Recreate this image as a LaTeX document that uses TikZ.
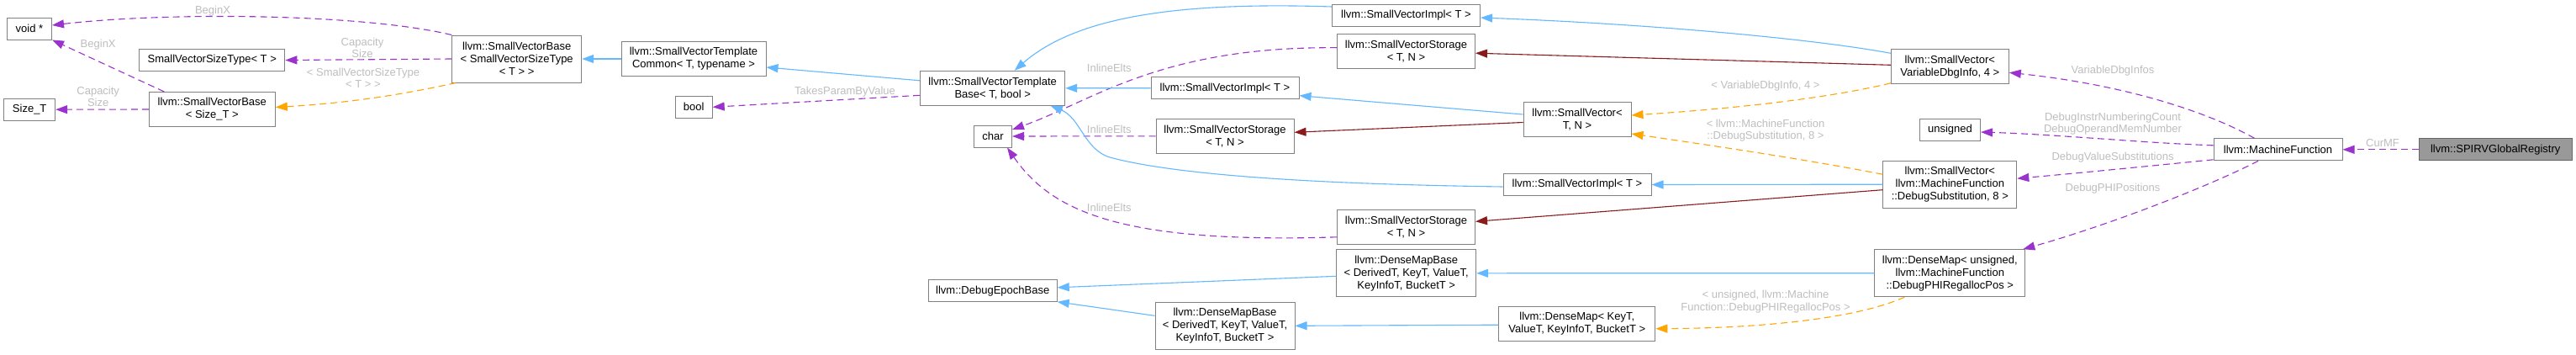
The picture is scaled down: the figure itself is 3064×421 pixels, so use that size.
\documentclass[tikz,border=0pt]{standalone}
\usepackage{fontspec}
\setmainfont{Liberation Sans}
\usetikzlibrary{arrows.meta}
\definecolor{usecol}{HTML}{9A32CD}
\definecolor{inhcol}{HTML}{63B8FF}
\definecolor{privcol}{HTML}{8B1A1A}
\definecolor{tmplcol}{HTML}{FFA500}
\definecolor{nodeborder}{HTML}{808080}
\definecolor{lblcol}{HTML}{BEBEBE}
\definecolor{spirvfill}{HTML}{999999}
\definecolor{spirvborder}{HTML}{666666}
\begin{document}
\begin{tikzpicture}[x=1pt,y=-1pt,
  cls/.style={draw=nodeborder, fill=white, line width=1pt, inner sep=0pt, align=center,
    font=\fontsize{13}{15}\selectfont},
  lbl/.style={text=lblcol, inner sep=0pt, align=center, font=\fontsize{13}{14.5}\selectfont},
  tip/.style={-{Triangle[length=14pt,width=10pt]}},
  usearr/.style={tip, draw=usecol, line width=1.1pt, dash pattern=on 8pt off 5pt},
  inharr/.style={tip, draw=inhcol, line width=1.1pt},
  privarr/.style={tip, draw=privcol, line width=1.1pt},
  tmplarr/.style={tip, draw=tmplcol, line width=1.1pt, dash pattern=on 8pt off 5pt}]
\useasboundingbox[fill=white] (0,0) rectangle (3064,421);

% nodes
\node[cls,minimum width=53pt,minimum height=26pt] (void) at (35,34) {void *};
\node[cls,minimum width=173pt,minimum height=26pt] (svst) at (252.3,71.5) {SmallVectorSizeType< T >};
\node[cls,minimum width=61pt,minimum height=26pt] (sizet) at (35.2,130.2) {Size\_T};
\node[cls,minimum width=150pt,minimum height=41pt] (svbsize) at (252.3,130) {llvm::SmallVectorBase\\< Size\_T >};
\node[cls,minimum width=154pt,minimum height=56pt] (svbsvst) at (614.7,70) {llvm::SmallVectorBase\\< SmallVectorSizeType\\< T > >};
\node[cls,minimum width=172pt,minimum height=41pt] (svtc) at (825,70) {llvm::SmallVectorTemplate\\Common< T, typename >};
\node[cls,minimum width=44pt,minimum height=26pt] (bool) at (825.2,127.3) {bool};
\node[cls,minimum width=172pt,minimum height=41pt] (svtb) at (1180.7,104.8) {llvm::SmallVectorTemplate\\Base< T, bool >};
\node[cls,minimum width=45pt,minimum height=26pt] (char) at (1181,162) {char};
\node[cls,minimum width=176pt,minimum height=26pt] (svimpl2) at (1457,104.7) {llvm::SmallVectorImpl< T >};
\node[cls,minimum width=164pt,minimum height=41pt] (svstor2) at (1457,161.8) {llvm::SmallVectorStorage\\< T, N >};
\node[cls,minimum width=153pt,minimum height=26pt] (epoch) at (1180.7,345.8) {llvm::DebugEpochBase};
\node[cls,minimum width=166pt,minimum height=56pt] (dmb2) at (1457,387.3) {llvm::DenseMapBase\\< DerivedT, KeyT, ValueT,\\KeyInfoT, BucketT >};
\node[cls,minimum width=176pt,minimum height=26pt] (svimpl1) at (1672.5,18) {llvm::SmallVectorImpl< T >};
\node[cls,minimum width=164pt,minimum height=41pt] (svstor1) at (1672.5,60.7) {llvm::SmallVectorStorage\\< T, N >};
\node[cls,minimum width=128pt,minimum height=41pt] (svtn) at (1876,142) {llvm::SmallVector<\\T, N >};
\node[cls,minimum width=176pt,minimum height=26pt] (svimpl3) at (1876,219.5) {llvm::SmallVectorImpl< T >};
\node[cls,minimum width=164pt,minimum height=41pt] (svstor3) at (1672.5,269.8) {llvm::SmallVectorStorage\\< T, N >};
\node[cls,minimum width=166pt,minimum height=56pt] (dmb1) at (1672.7,324.8) {llvm::DenseMapBase\\< DerivedT, KeyT, ValueT,\\KeyInfoT, BucketT >};
\node[cls,minimum width=186pt,minimum height=41pt] (dmkey) at (1875.8,384.7) {llvm::DenseMap< KeyT,\\ValueT, KeyInfoT, BucketT >};
\node[cls,minimum width=140pt,minimum height=41pt] (svvdi) at (2319.3,79.3) {llvm::SmallVector<\\VariableDbgInfo, 4 >};
\node[cls,minimum width=72pt,minimum height=26pt] (unsigned) at (2319.5,154) {unsigned};
\node[cls,minimum width=159pt,minimum height=56pt] (svds) at (2319.3,219.2) {llvm::SmallVector<\\llvm::MachineFunction\\::DebugSubstitution, 8 >};
\node[cls,minimum width=179pt,minimum height=56pt] (dmu) at (2319.3,324.7) {llvm::DenseMap< unsigned,\\llvm::MachineFunction\\::DebugPHIRegallocPos >};
\node[cls,minimum width=153pt,minimum height=26pt] (mf) at (2709.5,177.8) {llvm::MachineFunction};
\node[cls,fill=spirvfill,draw=spirvborder,minimum width=182pt,minimum height=26pt] (spirv) at (2968.2,177.8) {llvm::SPIRVGlobalRegistry};

% usage edges (purple dashed)
\draw[usearr] (svbsvst.north west) .. controls (430,16) and (200,14) .. ([yshift=4pt]void.east);
\draw[usearr] (svbsvst.west) -- (svst.east);
\draw[usearr] ([xshift=-57pt]svbsize.north) -- (void.south east);
\draw[usearr] (svbsize.west) -- (sizet.east);
\draw[usearr] ([yshift=-8.5pt]svtb.west) -- (bool.east);
\draw[usearr] ([yshift=4pt]svstor1.west) .. controls (1380,55) and (1300,120) .. ([yshift=8pt]char.east);
\draw[usearr] (svstor2.west) -- (char.east);
\draw[usearr] ([yshift=-12pt]svstor3.west) .. controls (1330,290) and (1250,250) .. ([xshift=17pt]char.south);
\draw[usearr] ([xshift=-28pt]mf.north) .. controls (2620,130) and (2520,100) .. ([yshift=-7pt]svvdi.east);
\draw[usearr] ([yshift=5pt]mf.west) .. controls (2550,170) and (2450,160) .. ([yshift=-3pt]unsigned.east);
\draw[usearr] ([yshift=-12pt]mf.west) .. controls (2550,198) and (2480,205) .. ([yshift=7pt]svds.east);
\draw[usearr] ([xshift=-23.5pt]mf.south) .. controls (2620,225) and (2500,270) .. ([xshift=-3pt]dmu.north east);
\draw[usearr] (spirv.west) -- (mf.east);

% inheritance edges (blue)
\draw[inharr] (svtc.west) -- (svbsvst.east);
\draw[inharr] ([yshift=9pt]svtb.west) -- ([yshift=-10pt]svtc.east);
\draw[inharr] ([yshift=10pt]svimpl1.west) .. controls (1400,2) and (1280,20) .. ([xshift=26pt]svtb.north);
\draw[inharr] (svimpl2.west) -- (svtb.east);
\draw[inharr] ([yshift=-2.5pt]svimpl3.west) .. controls (1650,220) and (1420,214) .. (1320,187) .. controls (1290,178) and (1285,140) .. ([xshift=69pt]svtb.south);
\draw[inharr] ([yshift=16pt]svvdi.west) .. controls (2150,45) and (1950,28) .. ([yshift=-3pt]svimpl1.east);
\draw[inharr] ([yshift=6pt]svtn.west) -- ([yshift=-9pt]svimpl2.east);
\draw[inharr] (svds.west) -- (svimpl3.east);
\draw[inharr] ([yshift=-3.5pt]dmb1.west) -- ([yshift=4pt]epoch.east);
\draw[inharr] ([yshift=12pt]dmb2.west) -- ([yshift=-13pt]epoch.east);
\draw[inharr] (dmu.west) -- (dmb1.east);
\draw[inharr] ([yshift=-1.5pt]dmkey.west) -- (dmb2.east);

% private inheritance (dark red)
\draw[privarr] ([yshift=2pt]svvdi.west) -- ([yshift=-2.5pt]svstor1.east);
\draw[privarr] ([yshift=-3.5pt]svtn.west) -- ([yshift=4.5pt]svstor2.east);
\draw[privarr] ([yshift=-6.5pt]svds.west) -- ([yshift=6.5pt]svstor3.east);

% template instances (orange dashed)
\draw[tmplarr] ([xshift=5pt]svbsvst.south west) .. controls (480,112) and (420,122) .. ([yshift=2.5pt]svbsize.east);
\draw[tmplarr] ([yshift=-19.5pt]svvdi.west) .. controls (2170,118) and (2050,130) .. ([yshift=5pt]svtn.east);
\draw[tmplarr] ([yshift=12pt]svds.west) .. controls (2150,190) and (2050,175) .. ([yshift=-17pt]svtn.east);
\draw[tmplarr] ([xshift=-54pt]dmu.south) .. controls (2210,378) and (2100,390) .. ([yshift=-6pt]dmkey.east);

% edge labels
\node[lbl] (lb1) at (253,13) {BeginX};
\node[lbl] (lb2) at (431,57) {Capacity\\Size};
\node[lbl] (lb3) at (432,93) {< SmallVectorSizeType\\< T > >};
\node[lbl] (lb4) at (116.7,53.3) {BeginX};
\node[lbl] (lb5) at (116.7,115) {Capacity\\Size};
\node[lbl] (lb6) at (1005,109.3) {TakesParamByValue};
\node[lbl] (lb7) at (1319.3,81) {InlineElts};
\node[lbl] (lb8) at (1319.3,154.3) {InlineElts};
\node[lbl] (lb9) at (1319.3,246.7) {InlineElts};
\node[lbl] (lb10) at (2100,101.7) {< VariableDbgInfo, 4 >};
\node[lbl] (lb11) at (2100,155) {< llvm::MachineFunction\\::DebugSubstitution, 8 >};
\node[lbl] (lb12) at (2100,358.5) {< unsigned, llvm::Machine\\Function::DebugPHIRegallocPos >};
\node[lbl] (lb13) at (2513,84.3) {VariableDbgInfos};
\node[lbl] (lb14) at (2513,147) {DebugInstrNumberingCount\\DebugOperandMemNumber};
\node[lbl] (lb15) at (2513,186.7) {DebugValueSubstitutions};
\node[lbl] (lb16) at (2513,224.3) {DebugPHIPositions};
\node[lbl] (lb17) at (2834,170.3) {CurMF};
\end{tikzpicture}
\end{document}
